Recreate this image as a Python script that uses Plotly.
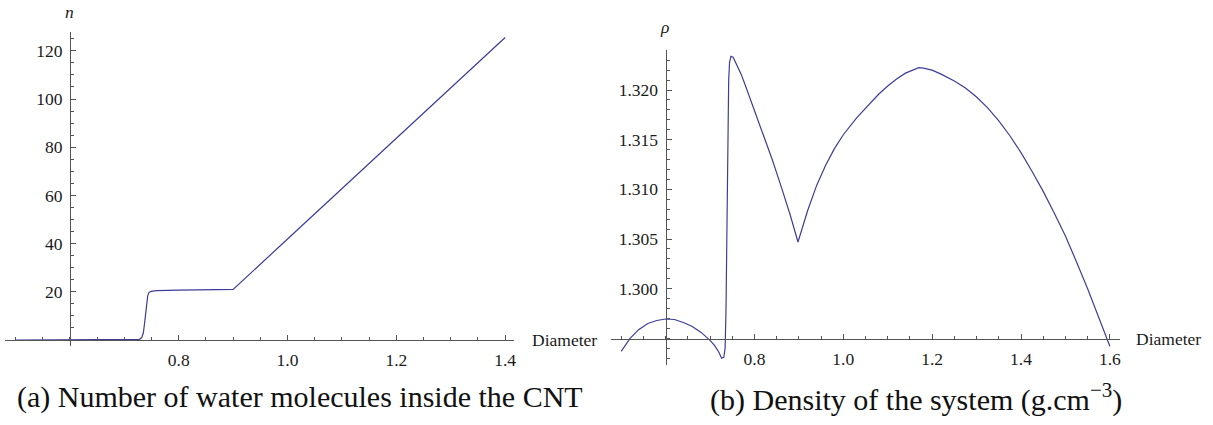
import plotly.graph_objects as go

W, H = 1213, 425

# ---- data: (a) number of water molecules ----
diam_n = [0.50, 0.60, 0.70, 0.720, 0.728, 0.732, 0.735, 0.737, 0.739, 0.741, 0.743,
          0.745, 0.748, 0.752, 0.760, 0.80, 0.85, 0.90, 1.00, 1.10, 1.20, 1.30, 1.40]
n_water = [0.0, 0.0, 0.0, 0.05, 0.3, 1.0, 3.0, 6.5, 11.0, 15.5, 18.3,
           19.6, 20.1, 20.3, 20.5, 20.7, 20.85, 21.0, 41.9, 62.8, 83.7, 104.6, 125.5]

# ---- data: (b) density ----
diam_rho = [0.50, 0.52, 0.54, 0.56, 0.58, 0.60, 0.62, 0.64, 0.66, 0.68, 0.70, 0.71,
            0.72, 0.726, 0.731, 0.734, 0.736, 0.738, 0.740, 0.742, 0.744, 0.747, 0.752,
            0.76, 0.77, 0.78, 0.80, 0.82, 0.84, 0.86, 0.88, 0.898,
            0.91, 0.92, 0.94, 0.96, 0.98, 1.00, 1.03, 1.06, 1.08, 1.10, 1.12, 1.14, 1.16,
            1.17, 1.18, 1.20, 1.22, 1.25, 1.275, 1.30, 1.325, 1.35, 1.375, 1.40, 1.425,
            1.45, 1.475, 1.50, 1.525, 1.55, 1.575, 1.60]
rho = [1.2937, 1.2950, 1.2959, 1.2965, 1.2968, 1.29695, 1.2969, 1.2966, 1.2962, 1.2956,
       1.2948, 1.2943, 1.2936, 1.2930, 1.2931, 1.2940, 1.2980, 1.3060, 1.3150, 1.3210,
       1.3228, 1.3234, 1.3233,
       1.3226, 1.3216, 1.3204, 1.3180, 1.3156, 1.3130, 1.3103, 1.3075, 1.3047,
       1.3064, 1.3079, 1.3104, 1.3124, 1.3141, 1.3155, 1.3172, 1.3187, 1.3196, 1.3204,
       1.3211, 1.3217, 1.3221,
       1.32225, 1.3222, 1.3220, 1.3216, 1.3209, 1.3202, 1.3193, 1.3182, 1.3169, 1.3154,
       1.3137, 1.3118, 1.3098, 1.3076, 1.3053, 1.3027, 1.3000, 1.2971, 1.2942]

n_ticks = [20, 40, 60, 80, 100, 120]
dn_ticks_a = [0.8, 1.0, 1.2, 1.4]
dn_ticks_b = [0.8, 1.0, 1.2, 1.4, 1.6]
rho_ticks = [1.300, 1.305, 1.310, 1.315, 1.320]

LINE = "#3d3d99"
AX = "#555555"
TXT = "#1a1a1a"
FONT = "Liberation Serif"

fig = go.Figure()
fig.add_trace(go.Scatter(x=diam_n, y=n_water, mode="lines", line=dict(color=LINE, width=1.2),
                         xaxis="x", yaxis="y", showlegend=False))
fig.add_trace(go.Scatter(x=diam_rho, y=rho, mode="lines", line=dict(color=LINE, width=1.2),
                         xaxis="x2", yaxis="y2", showlegend=False))


def px_x(p):
    return p / W


def px_y(p):
    return 1 - p / H


tickfont = dict(family=FONT, size=17.5, color=TXT)


def xax(dom, rng, pos, vals):
    return dict(domain=dom, range=rng, anchor="free", position=pos, showline=True, linecolor=AX,
                linewidth=1, showgrid=False, zeroline=False, ticks="inside", ticklen=5.5, tickwidth=1,
                tickcolor=AX, tickmode="array", tickvals=vals, ticktext=[f"{v:.1f}" for v in vals],
                tickfont=tickfont, ticklabelstandoff=4,
                minor=dict(ticks="inside", ticklen=3, tickwidth=1, tickcolor=AX, tickmode="linear",
                           tick0=0.6, dtick=0.05, showgrid=False))


def yax(dom, rng, pos, vals, fmt, tick0, dtick):
    return dict(domain=dom, range=rng, anchor="free", position=pos, side="left", showline=True,
                linecolor=AX, linewidth=1, showgrid=False, zeroline=False, ticks="inside",
                ticklen=5.5, tickwidth=1, tickcolor=AX, tickmode="array", tickvals=vals,
                ticktext=[fmt.format(v) for v in vals], tickfont=tickfont, ticklabelstandoff=4,
                minor=dict(ticks="inside", ticklen=3, tickwidth=1, tickcolor=AX, tickmode="linear",
                           tick0=tick0, dtick=dtick, showgrid=False))


fig.update_layout(
    xaxis=xax([px_x(5), px_x(515)], [0.4807, 1.4165], px_y(340), dn_ticks_a),
    yaxis=yax([px_y(346), px_y(31.7)], [(340 - 346) / 2.41, (340 - 31.7) / 2.41], px_x(70),
              n_ticks, "{:d}", 0, 5),
    xaxis2=xax([px_x(611.7), px_x(1121.7)], [0.4764, 1.6225], px_y(339.3), dn_ticks_b),
    yaxis2=yax([px_y(365), px_y(50)], [1.29232, 1.32403], px_x(666.7),
               rho_ticks, "{:.3f}", 1.29, 0.001),
)

ann_font = dict(family=FONT, size=17.5, color=TXT)
cap_font = dict(family=FONT, size=30, color="#111111")
annotations = [
    dict(text="<i>n</i>", x=px_x(70), y=px_y(12), xref="paper", yref="paper", showarrow=False,
         xanchor="center", yanchor="middle", font=ann_font),
    dict(text="<i>ρ</i>", x=px_x(666), y=px_y(27), xref="paper", yref="paper", showarrow=False,
         xanchor="center", yanchor="middle", font=ann_font),
    dict(text="Diameter", x=px_x(531), y=px_y(340), xref="paper", yref="paper", showarrow=False,
         xanchor="left", yanchor="middle", font=ann_font),
    dict(text="Diameter", x=px_x(1136), y=px_y(339), xref="paper", yref="paper", showarrow=False,
         xanchor="left", yanchor="middle", font=ann_font),
    dict(text="(a) Number of water molecules inside the CNT", x=px_x(300), y=px_y(397),
         xref="paper", yref="paper", showarrow=False, xanchor="center", yanchor="middle",
         font=cap_font),
    dict(text="(b) Density of the system (g.cm<sup>−3</sup>)", x=px_x(918), y=px_y(397),
         xref="paper", yref="paper", showarrow=False, xanchor="center", yanchor="middle",
         font=cap_font),
]

fig.update_layout(width=W, height=H, margin=dict(l=0, r=0, t=0, b=0), paper_bgcolor="white",
                  plot_bgcolor="rgba(0,0,0,0)", annotations=annotations, showlegend=False)

fig.write_html("out.html")
